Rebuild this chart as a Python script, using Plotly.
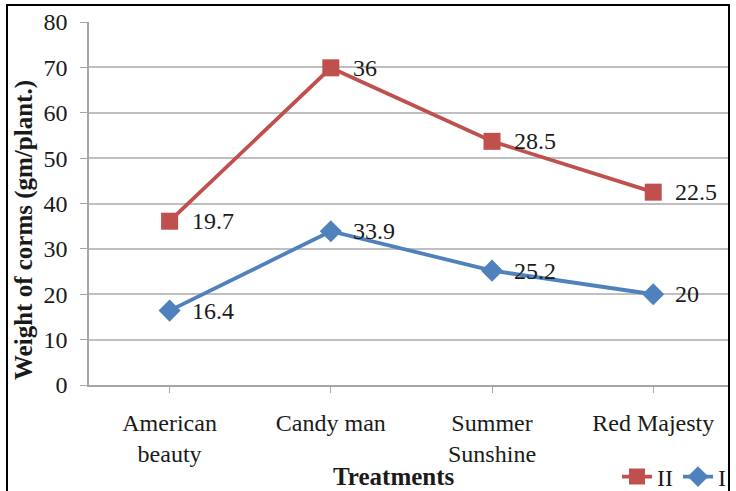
import numpy as np
import plotly.graph_objects as go

# Treatments and corm weights (gm/plant) for the two series
treatments = ["American<br>beauty", "Candy man", "Summer<br>Sunshine", "Red Majesty"]
series_I = [16.4, 33.9, 25.2, 20]
series_II = [19.7, 36, 28.5, 22.5]
y_ticks = [0, 10, 20, 30, 40, 50, 60, 70, 80]

# Stacked line chart: series II sits on top of series I
stack_I = np.array(series_I, dtype=float)
stack_II = stack_I + np.array(series_II, dtype=float)

RED = "#C0504D"
BLUE = "#4F81BD"
FONT = "Liberation Serif"
FS = 24
FS_TITLE = 25
TXT = "#1a1a1a"

W, H = 736, 491
L, R, T, B = 89, 7, 22, 106
pw, ph = W - L - R, H - T - B

x_idx = list(range(len(treatments)))

fig = go.Figure()
fig.add_trace(go.Scatter(
    x=x_idx, y=stack_II, name="II", mode="lines+markers",
    line=dict(color=RED, width=3.8),
    marker=dict(symbol="square", size=17, color=RED),
))
fig.add_trace(go.Scatter(
    x=x_idx, y=stack_I, name="I", mode="lines+markers",
    line=dict(color=BLUE, width=3.8),
    marker=dict(symbol="diamond", size=17, color=BLUE),
))

annotations = []
# Value labels placed to the right of each marker
for xs, ys, vals in [(x_idx, stack_II, series_II), (x_idx, stack_I, series_I)]:
    for xi, yi, v in zip(xs, ys, vals):
        annotations.append(dict(
            x=xi, y=yi, xref="x", yref="y", text=f"{v:g}",
            showarrow=False, xanchor="left", yanchor="middle", xshift=20,
            font=dict(family=FONT, size=FS, color=TXT),
        ))

def px_x(p):
    return (p - L) / pw

def px_y(p):
    return (H - B - p) / ph

# Axis titles
annotations.append(dict(
    x=px_x(394), y=px_y(477), xref="paper", yref="paper", text="<b>Treatments</b>",
    showarrow=False, xanchor="center", yanchor="middle",
    font=dict(family=FONT, size=FS_TITLE, color=TXT),
))
annotations.append(dict(
    x=px_x(24), y=px_y(230), xref="paper", yref="paper",
    text="<b>Weight of corms (gm/plant.)</b>", textangle=-90,
    showarrow=False, xanchor="center", yanchor="middle",
    font=dict(family=FONT, size=FS_TITLE, color=TXT),
))

fig.update_layout(
    width=W, height=H,
    margin=dict(l=L, r=R, t=T, b=B, autoexpand=False),
    paper_bgcolor="white", plot_bgcolor="white",
    font=dict(family=FONT, size=FS, color=TXT),
    annotations=annotations,
    shapes=[dict(
        type="rect", xref="paper", yref="paper",
        x0=px_x(7), x1=px_x(729), y0=px_y(500), y1=px_y(5),
        line=dict(color="black", width=2), fillcolor="rgba(0,0,0,0)", layer="above",
    )],
    legend=dict(
        orientation="h", x=px_x(731), y=px_y(477), xanchor="right", yanchor="middle",
        font=dict(family=FONT, size=FS, color=TXT),
        bgcolor="rgba(0,0,0,0)", itemwidth=30, tracegroupgap=0,
    ),
    showlegend=True,
)

fig.update_xaxes(
    range=[-0.5, 3.47], tickmode="array", tickvals=x_idx, ticktext=treatments,
    tickson="boundaries", ticks="outside", ticklen=6, tickcolor="#a6a6a6",
    showline=True, linecolor="#a6a6a6", linewidth=1.5,
    showgrid=False, zeroline=False, ticklabelstandoff=9,
    tickfont=dict(family=FONT, size=FS, color=TXT),
)
fig.update_yaxes(
    range=[0, 80], tickmode="array", tickvals=y_ticks,
    ticks="outside", ticklen=7, tickcolor="#a6a6a6",
    showline=True, linecolor="#a6a6a6", linewidth=1.5,
    showgrid=True, gridcolor="#bfbfbf", gridwidth=1.5, zeroline=False,
    ticklabelstandoff=8,
    tickfont=dict(family=FONT, size=FS, color=TXT),
)

fig.write_html("out.html")
